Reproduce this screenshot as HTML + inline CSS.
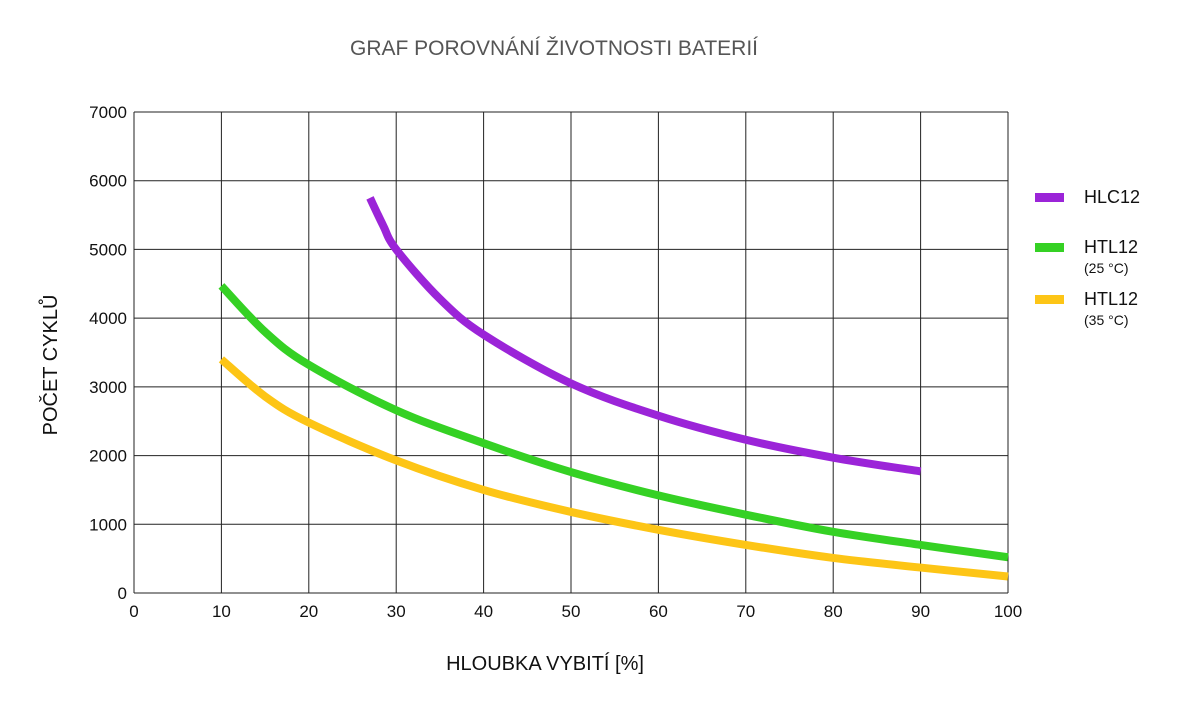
<!DOCTYPE html>
<html><head><meta charset="utf-8"><style>
body{margin:0;background:#fff;font-family:"Liberation Sans",sans-serif}
svg text{font-family:"Liberation Sans",sans-serif}
</style></head><body>
<svg width="1200" height="700" viewBox="0 0 1200 700" id="chart">
<text x="554" y="55" text-anchor="middle" font-size="21" fill="#555">GRAF POROVNÁNÍ ŽIVOTNOSTI BATERIÍ</text>
<g id="grid"></g>
<g id="ticks"></g>
<g id="series"></g>
<text x="545" y="670" text-anchor="middle" font-size="20" fill="#111">HLOUBKA VYBITÍ [%]</text>
<text transform="translate(57,365) rotate(-90)" text-anchor="middle" font-size="20" fill="#111">POČET CYKLŮ</text>
<g>
<rect x="1035" y="193" width="29" height="9" fill="#9b24d8"/>
<text x="1084" y="203" font-size="18" fill="#111">HLC12</text>
<rect x="1035" y="243" width="29" height="9" fill="#35d124"/>
<text x="1084" y="253" font-size="18" fill="#111">HTL12</text>
<text x="1084" y="273" font-size="14" fill="#111">(25 °C)</text>
<rect x="1035" y="295" width="29" height="9" fill="#fdc516"/>
<text x="1084" y="305" font-size="18" fill="#111">HTL12</text>
<text x="1084" y="325" font-size="14" fill="#111">(35 °C)</text>
</g>
</svg>
<script>
const xTicks=[0,10,20,30,40,50,60,70,80,90,100];
const yTicks=[0,1000,2000,3000,4000,5000,6000,7000];
const hlcX=[27,28.5,30,35,40,50,60,70,80,90];
const hlcY=[5750,5350,5000,4280,3760,3050,2580,2230,1970,1770];
const htl25X=[10,15,20,30,40,50,60,70,80,90,100];
const htl25Y=[4470,3800,3320,2660,2180,1760,1420,1140,890,700,520];
const htl35X=[10,15,20,30,40,50,60,70,80,90,100];
const htl35Y=[3400,2860,2480,1930,1500,1180,920,700,510,370,240];
const NS="http://www.w3.org/2000/svg";
const X0=134,X1=1008,Y0=593,Y1=112;
const sx=v=>X0+(v-0)/(100-0)*(X1-X0);
const sy=v=>Y0-(v/7000)*(Y0-Y1);
const grid=document.getElementById('grid'),ticks=document.getElementById('ticks'),ser=document.getElementById('series');
function mk(t,a,p){const e=document.createElementNS(NS,t);for(const k in a)e.setAttribute(k,a[k]);p.appendChild(e);return e;}
xTicks.forEach(v=>{
 const l=mk('line',{x1:sx(v),x2:sx(v),y1:Y1,y2:Y0,stroke:'#222','stroke-width':1},grid);
 
 
 const t=mk('text',{x:sx(v),y:617,'text-anchor':'middle','font-size':17,fill:'#111'},ticks);
 t.textContent=v;
 
 
});
yTicks.forEach(v=>{
 const l=mk('line',{x1:X0,x2:X1,y1:sy(v),y2:sy(v),stroke:'#222','stroke-width':1},grid);
 
 
 const t=mk('text',{x:127,y:sy(v)+6,'text-anchor':'end','font-size':17,fill:'#111'},ticks);
 t.textContent=v;
 
 
});
function path(xs,ys){
 const p=xs.map((x,i)=>[sx(x),sy(ys[i])]);
 let d='M'+p[0][0]+','+p[0][1];
 for(let i=0;i<p.length-1;i++){
  const p0=p[i-1]||p[i],p1=p[i],p2=p[i+1],p3=p[i+2]||p2;
  const c1=[p1[0]+(p2[0]-p0[0])/6,p1[1]+(p2[1]-p0[1])/6];
  const c2=[p2[0]-(p3[0]-p1[0])/6,p2[1]-(p3[1]-p1[1])/6];
  d+=`C${c1[0]},${c1[1]} ${c2[0]},${c2[1]} ${p2[0]},${p2[1]}`;
 }
 return d;
}
[[htl35X,htl35Y,'#fdc516','line-htl12-35'],[htl25X,htl25Y,'#35d124','line-htl12-25'],[hlcX,hlcY,'#9b24d8','line-hlc12']].forEach(s=>{
 const e=mk('path',{d:path(s[0],s[1]),fill:'none',stroke:s[2],'stroke-width':8},ser);
 
 
});
</script>
</body></html>
